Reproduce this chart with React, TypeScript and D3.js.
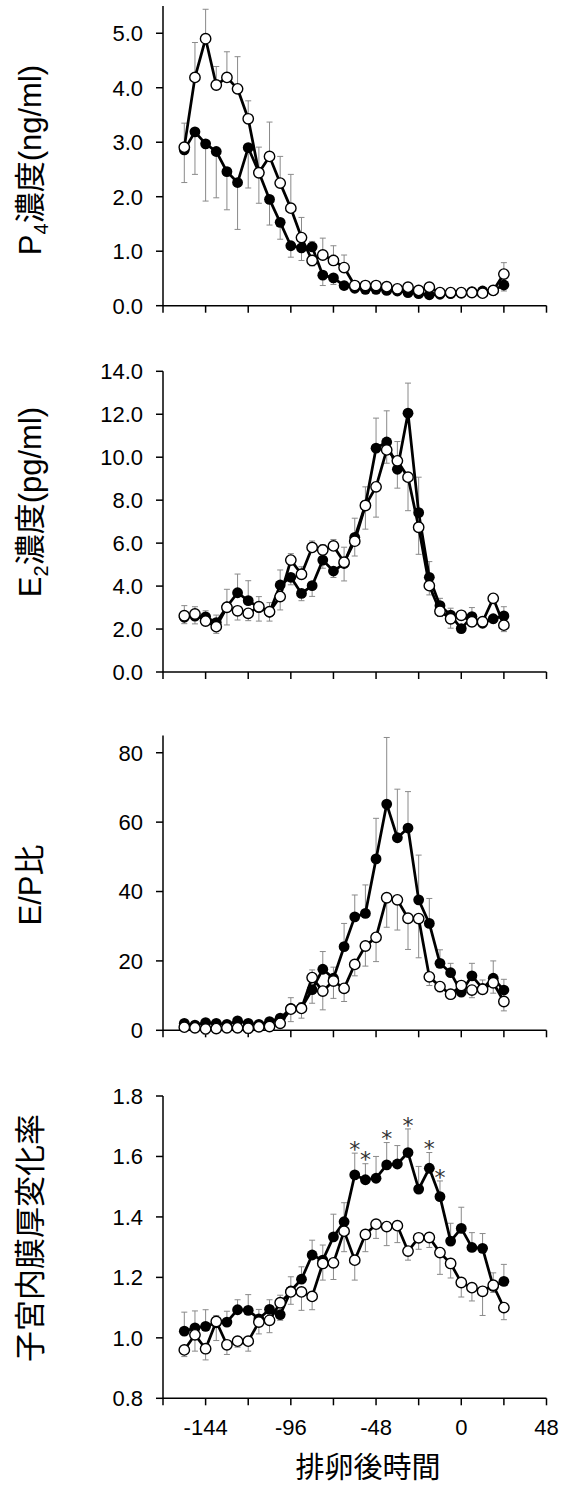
import React from 'react';
import * as d3 from 'd3';

// ---- data ----
const hours = [-156, -150, -144, -138, -132, -126, -120, -114, -108, -102, -96, -90, -84, -78, -72, -66, -60, -54, -48, -42, -36, -30, -24, -18, -12, -6, 0, 6, 12, 18, 24];
const xTicks = [-168, -144, -120, -96, -72, -48, -24, 0, 24, 48];
const xTickLabels = [-144, -96, -48, 0, 48];

// P4 (ng/ml)
const p4Filled = [2.86, 3.19, 2.97, 2.83, 2.46, 2.26, 2.90, 2.45, 1.95, 1.53, 1.10, 1.06, 1.08, 0.56, 0.51, 0.37, 0.32, 0.30, 0.30, 0.28, 0.27, 0.24, 0.22, 0.20, 0.21, 0.22, 0.23, 0.26, 0.27, 0.28, 0.38];
const p4Open = [2.91, 4.19, 4.90, 4.05, 4.19, 3.98, 3.43, 2.44, 2.74, 2.25, 1.79, 1.25, 0.83, 0.93, 0.83, 0.70, 0.37, 0.37, 0.37, 0.35, 0.31, 0.34, 0.28, 0.34, 0.24, 0.24, 0.24, 0.24, 0.23, 0.28, 0.58];
const p4FilledErr = [0.60, 0.78, 1.05, 0.85, 0.70, 0.86, 0.74, 0.46, 0.47, 0.31, 0.21, 0.23, 0.10, 0.19, 0.12, 0.07, 0.04, 0.04, 0.04, 0.04, 0.04, 0.04, 0.04, 0.04, 0.03, 0.03, 0.03, 0.03, 0.03, 0.03, 0.11];
const p4OpenErr = [0.44, 0.64, 0.54, 0.34, 0.47, 0.59, 0.33, 0.56, 0.63, 0.49, 0.62, 0.37, 0.10, 0.31, 0.27, 0.23, 0.05, 0.05, 0.05, 0.05, 0.05, 0.05, 0.05, 0.05, 0.04, 0.04, 0.04, 0.04, 0.04, 0.04, 0.21];
const p4Ticks = [0, 1, 2, 3, 4, 5];

// E2 (pg/ml)
const e2Filled = [2.55, 2.60, 2.57, 2.30, 3.04, 3.69, 3.32, 3.00, 2.78, 4.05, 4.41, 3.66, 4.02, 5.21, 4.70, 5.05, 6.27, 7.78, 10.42, 10.71, 9.44, 12.05, 7.42, 4.41, 3.09, 2.65, 2.02, 2.58, 2.27, 2.48, 2.61];
const e2Open = [2.62, 2.70, 2.37, 2.11, 3.01, 2.85, 2.73, 3.04, 2.81, 3.51, 5.21, 4.55, 5.80, 5.68, 5.87, 5.11, 6.09, 7.75, 8.62, 10.34, 9.83, 9.07, 6.74, 4.02, 2.83, 2.48, 2.64, 2.34, 2.34, 3.43, 2.18];
const e2FilledErr = [0.30, 0.36, 0.28, 0.35, 0.81, 0.87, 0.93, 0.63, 0.41, 0.70, 0.35, 0.34, 0.50, 0.38, 0.30, 0.81, 0.89, 0.84, 1.40, 1.45, 0.88, 1.40, 1.65, 0.73, 0.34, 0.32, 0.10, 0.42, 0.15, 0.20, 0.43];
const e2OpenErr = [0.47, 0.34, 0.21, 0.31, 0.82, 0.43, 0.34, 0.47, 0.42, 0.62, 0.30, 0.35, 0.30, 0.25, 0.30, 0.70, 0.69, 1.10, 1.41, 0.62, 0.90, 1.56, 1.26, 0.43, 0.25, 0.44, 0.10, 0.20, 0.15, 0.10, 0.30];
const e2Ticks = [0, 2, 4, 6, 8, 10, 12, 14];

// E/P ratio
const epFilled = [2.0, 1.5, 2.2, 2.0, 1.7, 2.7, 2.0, 1.7, 2.5, 3.5, 6.3, 6.5, 11.7, 17.6, 15.0, 24.1, 32.7, 33.7, 49.4, 65.2, 55.5, 58.3, 37.6, 30.8, 19.3, 16.6, 11.0, 15.7, 12.1, 15.0, 11.6];
const epOpen = [0.9, 0.7, 0.4, 0.5, 0.7, 0.7, 0.6, 1.0, 1.1, 2.0, 6.1, 6.3, 15.2, 11.3, 14.2, 12.1, 19.0, 24.3, 26.8, 38.2, 37.6, 32.3, 32.2, 15.4, 12.6, 10.4, 12.9, 11.6, 11.8, 13.7, 8.3];
const epFilledErr = [0.5, 0.5, 0.5, 0.5, 0.5, 0.5, 0.5, 0.5, 0.5, 1.0, 3.1, 1.5, 3.9, 5.1, 3.2, 6.7, 6.3, 8.2, 11.7, 19.2, 14.0, 10.5, 12.9, 7.2, 3.9, 2.7, 1.0, 3.6, 2.4, 5.0, 3.1];
const epOpenErr = [0.4, 0.4, 1.5, 0.4, 0.4, 0.4, 1.5, 0.4, 0.4, 0.5, 3.6, 2.8, 2.2, 5.4, 5.0, 3.8, 3.3, 5.8, 7.0, 8.5, 8.7, 9.0, 11.3, 2.5, 1.5, 1.0, 1.0, 2.2, 1.0, 3.0, 2.7];
const epTicks = [0, 20, 40, 60, 80];

// Endometrial thickness change ratio
const enFilled = [1.022, 1.033, 1.038, 1.050, 1.052, 1.093, 1.091, 1.063, 1.094, 1.077, 1.155, 1.194, 1.274, 1.257, 1.334, 1.384, 1.539, 1.523, 1.528, 1.572, 1.575, 1.613, 1.492, 1.561, 1.467, 1.320, 1.362, 1.299, 1.296, 1.170, 1.187];
const enOpen = [0.960, 1.010, 0.964, 1.054, 0.977, 0.989, 0.989, 1.052, 1.058, 1.116, 1.152, 1.152, 1.137, 1.246, 1.248, 1.353, 1.257, 1.342, 1.376, 1.368, 1.371, 1.287, 1.331, 1.332, 1.282, 1.246, 1.183, 1.166, 1.154, 1.174, 1.100];
const enFilledErr = [0.063, 0.056, 0.055, 0.059, 0.036, 0.033, 0.052, 0.031, 0.032, 0.019, 0.047, 0.041, 0.049, 0.050, 0.075, 0.063, 0.072, 0.053, 0.072, 0.074, 0.061, 0.078, 0.075, 0.052, 0.052, 0.059, 0.070, 0.049, 0.049, 0.020, 0.056];
const enOpenErr = [0.022, 0.054, 0.037, 0.020, 0.032, 0.020, 0.033, 0.039, 0.041, 0.025, 0.041, 0.061, 0.044, 0.055, 0.055, 0.068, 0.066, 0.057, 0.047, 0.063, 0.056, 0.030, 0.038, 0.033, 0.072, 0.048, 0.048, 0.044, 0.080, 0.041, 0.040];
const enTicks = [0.8, 1.0, 1.2, 1.4, 1.6, 1.8];
const enSignificant = [-60, -54, -42, -30, -18, -12];

const FONT = "'Liberation Sans', Arial, 'Noto Sans CJK JP', sans-serif";
const CJK = "'Noto Sans CJK JP', 'Liberation Sans', sans-serif";

type PanelDef = {
  top: number;
  bottom: number;
  domain: [number, number];
  ticks: number[];
  fmt: (v: number) => string;
  filled: number[];
  open: number[];
  filledErr: number[];
  openErr: number[];
  title: React.ReactNode;
  titleY: number;
  stars?: number[];
};

const X_LEFT = 163;
const X_RIGHT = 546.5;

function Panel({ p, x, showXLabels }: { p: PanelDef; x: d3.ScaleLinear<number, number>; showXLabels: boolean }) {
  const y = d3.scaleLinear().domain(p.domain).range([p.bottom, p.top]);
  const line = d3.line<number>().x((_, i) => x(hours[i])).y((d) => y(d));
  const cap = 3;
  const bars: React.ReactNode[] = [];
  hours.forEach((h, i) => {
    const f = p.filled[i];
    const o = p.open[i];
    const fUp = f >= o;
    const fEnd = fUp ? f + p.filledErr[i] : f - p.filledErr[i];
    const oEnd = fUp ? o - p.openErr[i] : o + p.openErr[i];
    const cx = x(h);
    [[f, fEnd], [o, oEnd]].forEach(([v, e], k) => {
      bars.push(
        <g key={`b${i}-${k}`} stroke="#8a8a8a" strokeWidth={1}>
          <line x1={cx} x2={cx} y1={y(v)} y2={y(e)} />
          <line x1={cx - cap} x2={cx + cap} y1={y(e)} y2={y(e)} />
        </g>
      );
    });
  });
  const starY = (h: number) => {
    const i = hours.indexOf(h);
    return y(p.filled[i] + p.filledErr[i]) - 9;
  };
  return (
    <g>
      <line x1={X_LEFT} x2={X_LEFT} y1={p.top} y2={p.bottom} stroke="#000" strokeWidth={1.5} />
      <line x1={X_LEFT} x2={X_RIGHT} y1={p.bottom} y2={p.bottom} stroke="#000" strokeWidth={1.5} />
      {p.ticks.map((t) => (
        <g key={`yt${t}`}>
          <line x1={X_LEFT - 7} x2={X_LEFT} y1={y(t)} y2={y(t)} stroke="#000" strokeWidth={1.5} />
          <text x={X_LEFT - 20} y={y(t)} dy="0.36em" textAnchor="end" fontSize={22} fontFamily={FONT}>
            {p.fmt(t)}
          </text>
        </g>
      ))}
      {xTicks.map((t) => (
        <line key={`xt${t}`} x1={x(t)} x2={x(t)} y1={p.bottom} y2={p.bottom + 7} stroke="#000" strokeWidth={1.5} />
      ))}
      {showXLabels &&
        xTickLabels.map((t) => (
          <text key={`xl${t}`} x={x(t)} y={p.bottom + 37} textAnchor="middle" fontSize={22} fontFamily={FONT}>
            {t}
          </text>
        ))}
      {bars}
      <path d={line(p.filled) || ''} fill="none" stroke="#000" strokeWidth={2.75} strokeLinejoin="round" />
      {p.filled.map((v, i) => (
        <circle key={`f${i}`} cx={x(hours[i])} cy={y(v)} r={5.4} fill="#000" />
      ))}
      <path d={line(p.open) || ''} fill="none" stroke="#000" strokeWidth={2.75} strokeLinejoin="round" />
      {p.open.map((v, i) => (
        <circle key={`o${i}`} cx={x(hours[i])} cy={y(v)} r={5.2} fill="#fff" stroke="#000" strokeWidth={1.4} />
      ))}
      {p.stars &&
        p.stars.map((h) => (
          <text key={`s${h}`} x={x(h)} y={starY(h)} dy="0.58em" textAnchor="middle" fontSize={22} fill="#333" fontFamily="'DejaVu Sans', sans-serif">
            *
          </text>
        ))}
      <g transform={`translate(30,${p.titleY}) rotate(-90)`}>
        <text textAnchor="middle" dy="0.36em" fontSize={31} fontFamily={FONT}>
          {p.title}
        </text>
      </g>
    </g>
  );
}

export default function App() {
  const x = d3.scaleLinear().domain([-168, 48]).range([X_LEFT, X_RIGHT]);
  const f1 = d3.format('.1f');
  const f0 = d3.format('d');
  const panels: PanelDef[] = [
    {
      top: 6, bottom: 305.7, domain: [0, 5.5], ticks: p4Ticks, fmt: f1,
      filled: p4Filled, open: p4Open, filledErr: p4FilledErr, openErr: p4OpenErr,
      title: (<>P<tspan fontSize={20} dy={7}>4</tspan><tspan dy={-7}>濃度(ng/ml)</tspan></>),
      titleY: 160,
    },
    {
      top: 371.3, bottom: 672, domain: [0, 14], ticks: e2Ticks, fmt: f1,
      filled: e2Filled, open: e2Open, filledErr: e2FilledErr, openErr: e2OpenErr,
      title: (<>E<tspan fontSize={20} dy={7}>2</tspan><tspan dy={-7}>濃度(pg/ml)</tspan></>),
      titleY: 502,
    },
    {
      top: 735.4, bottom: 1030.3, domain: [0, 85], ticks: epTicks, fmt: f0,
      filled: epFilled, open: epOpen, filledErr: epFilledErr, openErr: epOpenErr,
      title: 'E/P比',
      titleY: 885,
    },
    {
      top: 1096, bottom: 1398.3, domain: [0.8, 1.8], ticks: enTicks, fmt: f1,
      filled: enFilled, open: enOpen, filledErr: enFilledErr, openErr: enOpenErr,
      title: '子宮内膜厚変化率',
      titleY: 1238,
      stars: enSignificant,
    },
  ];
  return (
    <svg width={562} height={1485} style={{ position: 'absolute', left: 0, top: 0, background: '#fff' }}>
      <rect x={0} y={0} width={562} height={1485} fill="#fff" />
      {panels.map((p, i) => (
        <Panel key={i} p={p} x={x} showXLabels={i === panels.length - 1} />
      ))}
      <text x={368} y={1478} textAnchor="middle" fontSize={29} fontFamily={CJK}>
        排卵後時間
      </text>
    </svg>
  );
}
